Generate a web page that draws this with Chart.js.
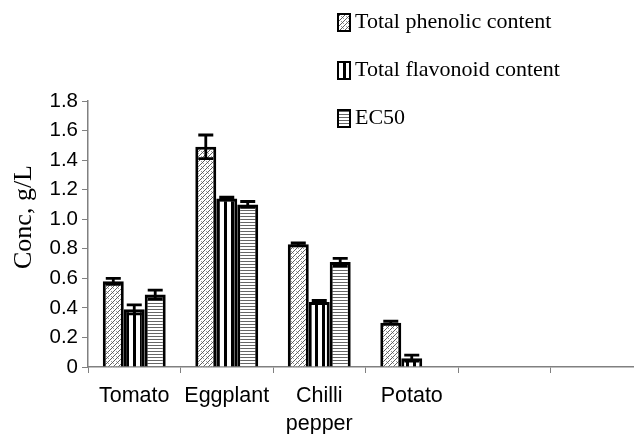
<!DOCTYPE html>
<html>
<head>
<meta charset="utf-8">
<script src="https://cdn.jsdelivr.net/npm/chart.js@4.4.1/dist/chart.umd.min.js"></script>
<style>
  html, body { margin: 0; padding: 0; background: #fff; overflow: hidden; }
  #wrap { width: 650px; height: 434px; }
</style>
</head>
<body>
<div id="wrap"><canvas id="canvas" width="650" height="434"></canvas></div>
<script>
var categories = ['Tomato', 'Eggplant', ['Chilli', 'pepper'], 'Potato', '', ''];
var seriesNames = ['Total phenolic content', 'Total flavonoid content', 'EC50'];
var phenolic = [0.58, 1.49, 0.83, 0.30, null, null];
var flavonoid = [0.39, 1.14, 0.44, 0.06, null, null];
var ec50 = [0.49, 1.10, 0.71, null, null, null];
var phenolicErr = [0.02, 0.08, 0.01, 0.01, null, null];
var flavonoidErr = [0.03, 0.01, 0.01, 0.02, null, null];
var ec50Err = [0.03, 0.02, 0.025, null, null, null];
var yTicks = [0, 0.2, 0.4, 0.6, 0.8, 1.0, 1.2, 1.4, 1.6, 1.8];

var axisGrey = '#808080';

function makePattern(kind) {
    var c = document.createElement('canvas');
    var g = c.getContext('2d');
    if (kind === 'hatch') {
        c.width = 5; c.height = 5;
        g.fillStyle = '#fff'; g.fillRect(0, 0, 5, 5);
        g.strokeStyle = '#5e5e5e'; g.lineWidth = 1;
        g.beginPath();
        g.moveTo(-1, 6); g.lineTo(6, -1);
        g.stroke();
        g.fillStyle = '#999';
        g.fillRect(1, 1, 1, 1);
        g.fillRect(3, 3, 1, 1);
    } else if (kind === 'vert') {
        c.width = 7; c.height = 2;
        g.fillStyle = '#fff'; g.fillRect(0, 0, 7, 2);
        g.fillStyle = '#000'; g.fillRect(0, 0, 3, 2);
    } else {
        c.width = 2; c.height = 3;
        g.fillStyle = '#fff'; g.fillRect(0, 0, 2, 3);
        g.fillStyle = '#666'; g.fillRect(0, 0, 2, 1);
    }
    return g.createPattern(c, 'repeat');
}

var fills = [makePattern('hatch'), makePattern('vert'), makePattern('horiz')];
var errors = [phenolicErr, flavonoidErr, ec50Err];

var errorBars = {
    id: 'errorBars',
    afterDatasetsDraw: function(chart) {
        var ctx = chart.ctx;
        var y = chart.scales.y;
        ctx.save();
        ctx.strokeStyle = '#000';
        ctx.lineWidth = 2.8;
        chart.data.datasets.forEach(function(ds, i) {
            var meta = chart.getDatasetMeta(i);
            meta.data.forEach(function(bar, j) {
                var v = ds.data[j], e = errors[i][j];
                if (v == null || e == null) return;
                var top = y.getPixelForValue(v + e);
                var bot = y.getPixelForValue(v - e);
                ctx.beginPath();
                ctx.moveTo(bar.x, top); ctx.lineTo(bar.x, bot);
                ctx.moveTo(bar.x - 7.5, top); ctx.lineTo(bar.x + 7.5, top);
                ctx.moveTo(bar.x - 7.5, bot); ctx.lineTo(bar.x + 7.5, bot);
                ctx.stroke();
            });
        });
        ctx.restore();
    }
};

// legend stacked at the top right and the y title, drawn by hand
var extras = {
    id: 'extras',
    afterDraw: function(chart) {
        var ctx = chart.ctx;
        ctx.save();
        var rows = [22, 70, 118];
        seriesNames.forEach(function(name, i) {
            ctx.fillStyle = fills[i];
            ctx.fillRect(338, rows[i] - 8, 12, 17);
            ctx.strokeStyle = '#000';
            ctx.lineWidth = 2;
            ctx.strokeRect(338, rows[i] - 8, 12, 17);
            ctx.fillStyle = '#000';
            ctx.font = '22px "Liberation Serif", "Times New Roman", serif';
            ctx.textBaseline = 'middle';
            ctx.textAlign = 'left';
            ctx.fillText(name, 355, rows[i]);
        });
        ctx.translate(24, 217);
        ctx.rotate(-Math.PI / 2);
        ctx.textAlign = 'center';
        ctx.textBaseline = 'middle';
        ctx.font = '26px "Liberation Serif", "Times New Roman", serif';
        ctx.fillText('Conc, g/L', 0, 0);
        ctx.restore();
    }
};

var ctx = document.getElementById('canvas').getContext('2d');
window.myBar = new Chart(ctx, {
    type: 'bar',
    data: {
        labels: categories,
        datasets: [
            { label: seriesNames[0], data: phenolic, backgroundColor: fills[0] },
            { label: seriesNames[1], data: flavonoid, backgroundColor: fills[1] },
            { label: seriesNames[2], data: ec50, backgroundColor: fills[2] }
        ].map(function(d) {
            d.borderColor = '#000';
            d.borderWidth = 3;
            d.categoryPercentage = 0.68;
            d.barPercentage = 1.0;
            return d;
        })
    },
    options: {
        responsive: false,
        animation: false,
        layout: { padding: { top: 101, right: 7, left: 0, bottom: 0 } },
        plugins: {
            legend: { display: false },
            tooltip: { enabled: false }
        },
        scales: {
            x: {
                grid: { display: true, drawOnChartArea: false, color: axisGrey, tickLength: 6, offset: true },
                border: { color: axisGrey, width: 1.5 },
                ticks: {
                    color: '#000',
                    font: { family: 'Arial, "Liberation Sans", sans-serif', size: 21.5, lineHeight: 1.3 },
                    padding: 9,
                    maxRotation: 0,
                    autoSkip: false
                },
                afterFit: function(s) { s.height = 67; }
            },
            y: {
                min: 0,
                max: 1.8,
                afterBuildTicks: function(s) { s.ticks = yTicks.map(function(v) { return { value: v }; }); },
                grid: { display: true, drawOnChartArea: false, color: axisGrey, tickLength: 6 },
                border: { color: axisGrey, width: 1.5 },
                ticks: {
                    color: '#000',
                    font: { family: 'Arial, "Liberation Sans", sans-serif', size: 20.5 },
                    padding: 4,
                    callback: function(v) { return v === 0 ? '0' : v.toFixed(1); }
                },
                afterFit: function(s) { s.width = 88; }
            }
        }
    },
    plugins: [errorBars, extras]
});
</script>
</body>
</html>
